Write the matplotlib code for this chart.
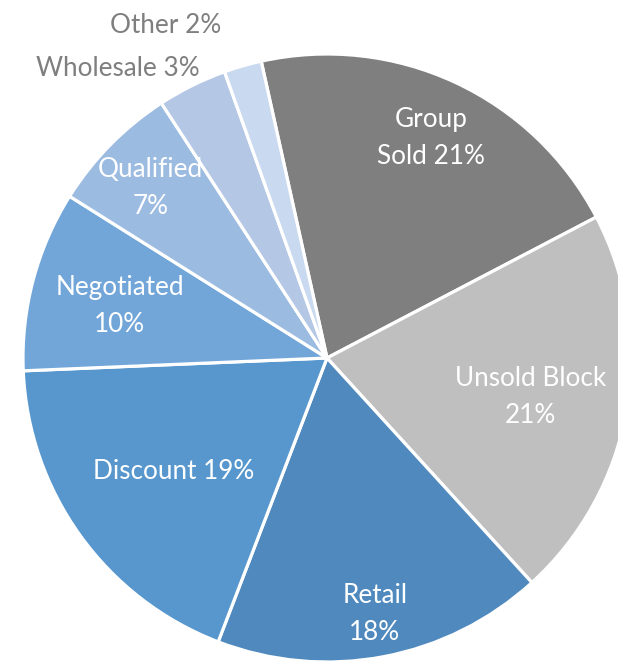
import numpy as np
import matplotlib.pyplot as plt

# ---------- DATA ----------
labels = ["Group\nSold 21%", "Unsold Block\n21%", "Retail\n18%", "Discount 19%",
          "Negotiated\n10%", "Qualified\n7%", "Wholesale 3%", "Other 2%"]
shares = [20.8, 20.9, 17.6, 18.5, 9.6, 6.9, 3.7, 2.0]
colors = ["#7f7f7f", "#bfbfbf", "#4f89bd", "#5797cd", "#72a6d9", "#9cbbe1",
          "#b4c7e5", "#c9d9ef"]
# ---------------------------

# label placement: radial distance (pie radius = 1) and angle nudge in degrees
label_r = [0.81, 0.68, 0.845, 0.62, 0.705, 0.815, 1.185, 1.227]
label_da = [0, 0, 0, 0, 0, 0, 9.2, 9.6]
inside = [True, True, True, True, True, True, False, False]

plt.rcParams['font.family'] = ['Lato', 'DejaVu Sans']

W, H = 618, 661
cx, cy, R = 327, 358, 304

fig = plt.figure(figsize=(W / 100, H / 100), dpi=100)
ax = fig.add_axes([0, 0, 1, 1])

wedges, _ = ax.pie(shares, colors=colors, startangle=102.5, counterclock=False,
                   radius=1.0, center=(0, 0),
                   wedgeprops=dict(edgecolor="white", linewidth=2.3))

for w, lab, r, da, ins in zip(wedges, labels, label_r, label_da, inside):
    mid = np.deg2rad((w.theta1 + w.theta2) / 2 + da)
    x, y = r * np.cos(mid), r * np.sin(mid) - 0.011  # small baseline nudge
    ax.text(x, y, lab, ha="center", va="center", fontsize=18.8,
            color="white" if ins else "#7f7f7f", linespacing=1.6)

ax.set_xlim(-cx / R, (W - cx) / R)
ax.set_ylim((cy - H) / R, cy / R)
ax.set_aspect("auto")
ax.axis("off")

plt.savefig("out.png", dpi=100)
plt.close(fig)
